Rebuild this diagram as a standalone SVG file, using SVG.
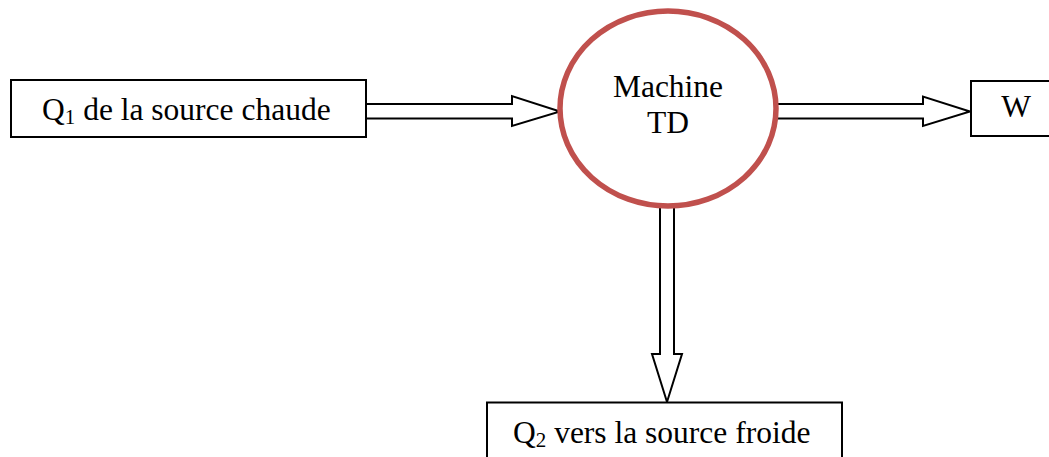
<svg xmlns="http://www.w3.org/2000/svg" width="1049" height="457" viewBox="0 0 1049 457">
<style>
.box{fill:#fff;stroke:#000;stroke-width:2}
.arr{fill:#fff;stroke:#000;stroke-width:2;stroke-linejoin:miter}
.t{font-family:"Liberation Serif","Times New Roman",serif;font-size:31.5px;fill:#000}
.sub{font-size:21px}
</style>
<rect width="1049" height="457" fill="#fff"/>
<g id="connectors">
<path class="arr" d="M366,104 H512 V96 L560,111.5 L512,126 V118.5 H366"/>
<path class="arr" d="M776,104 H923 V96.5 L970,111.5 L923,126 V118.5 H776 Z"/>
<path class="arr" d="M660,207 V354 H652 L667,402 L682,354 H674 V207 Z"/>
</g>
<g id="n1">
<rect class="box" x="11" y="80" width="355" height="57"/>
<text class="t" x="42" y="120">Q<tspan class="sub" dy="4">1</tspan><tspan dy="-4"> de la source chaude</tspan></text>
</g>
<g id="machine">
<ellipse cx="668" cy="108.5" rx="108" ry="97.5" fill="#fff" stroke="#c0504d" stroke-width="5.5"/>
<text class="t" x="668" y="97" text-anchor="middle">Machine</text>
<text class="t" x="668" y="133" text-anchor="middle">TD</text>
</g>
<g id="w">
<rect class="box" x="971" y="81" width="100" height="55"/>
<text class="t" x="1016" y="117" text-anchor="middle">W</text>
</g>
<g id="n2">
<rect class="box" x="487" y="402.5" width="355" height="70"/>
<text class="t" x="513" y="443">Q<tspan class="sub" dy="4">2</tspan><tspan dy="-4"> vers la source froide</tspan></text>
</g>
</svg>
